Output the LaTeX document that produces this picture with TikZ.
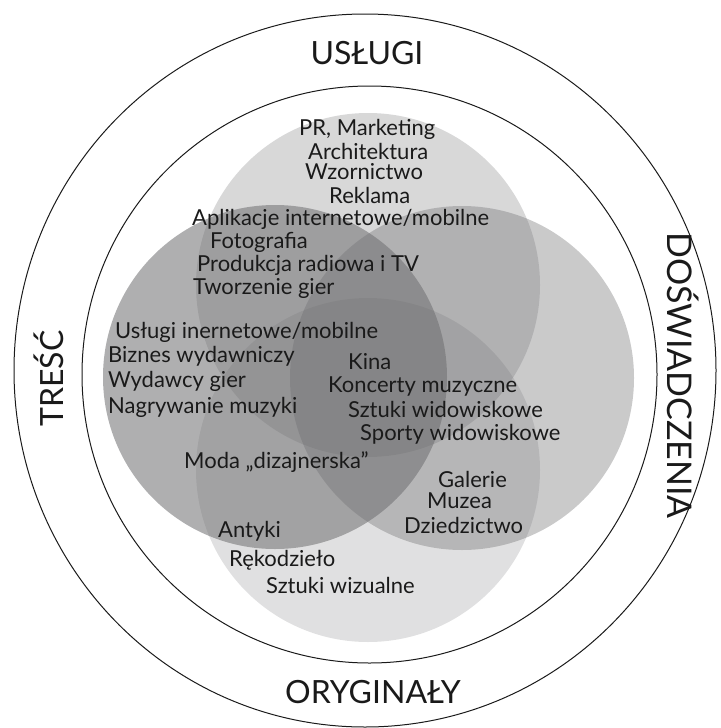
\documentclass[tikz,border=0pt]{standalone}
\usepackage{fontspec}
\setmainfont{Lato}
\usepackage{xcolor}
\usepackage{tikz}
\usetikzlibrary{positioning,calc}
\definecolor{venngray}{HTML}{6E6E70}
\definecolor{venntext}{HTML}{1A1A1A}

\begin{document}
\begin{tikzpicture}[x=1pt,y=-1pt]
    \tikzstyle{sector}=[circle,minimum size=344pt,inner sep=0pt,fill=venngray]
    \tikzstyle{area}=[anchor=base,inner sep=0pt,font=\fontsize{32}{38}\selectfont,text=venntext]
    \tikzstyle{item}=[anchor=base west,inner sep=0pt,font=\fontsize{22}{26}\selectfont,text=venntext]
    \useasboundingbox (0,0) rectangle (720,728);
    \coordinate (c) at (368,378);
    % two rings
    \draw[line width=1pt,venntext] (365,370.5) ellipse [x radius=351, y radius=356.5];
    \draw[line width=1pt,venntext] (369.5,374.5) ellipse [x radius=287.5, y radius=288.5];
    % the four sets
    \node[sector,fill opacity=0.27] (su) at ($(c)+(0,-93)$) {};
    \node[sector,fill opacity=0.37] (sd) at ($(c)+(94,0)$) {};
    \node[sector,fill opacity=0.21] (so) at ($(c)+(0,92)$) {};
    \node[sector,fill opacity=0.55] (st) at ($(c)+(-93,-1)$) {};
    % ring labels
    \node[area] (uslugi) at (367,64) {USŁUGI};
    \node[area] (oryg) at (373,703) {ORYGINAŁY};
    \node[area,rotate=90] (tresc) at (63,378.5) {TREŚĆ};
    \node[area,rotate=-90,font=\fontsize{34}{40}\selectfont] (dosw) at (667,375.5) {DOŚWIADCZENIA};
    % services
    \node[item] (pr) at (299,135) {PR, Marketing};
    \node[item] (arch) at (308,159) {Architektura};
    \node[item] (wzor) at (305,179) {Wzornictwo};
    \node[item] (rekl) at (329,203) {Reklama};
    \node[item] (apl) at (192,225) {Aplikacje internetowe/mobilne};
    \node[item] (foto) at (210,248) {Fotografia};
    \node[item] (prod) at (197,271) {Produkcja radiowa i TV};
    \node[item] (gry) at (193,294) {Tworzenie gier};
    % content
    \node[item] (usl) at (115,338) {Usługi inernetowe/mobilne};
    \node[item] (biz) at (108,362) {Biznes wydawniczy};
    \node[item] (wyd) at (108,387) {Wydawcy gier};
    \node[item] (nag) at (108,413) {Nagrywanie muzyki};
    \node[item] (moda) at (184,468) {Moda „dizajnerska”};
    % experiences
    \node[item] (kina) at (348,369) {Kina};
    \node[item] (konc) at (328,392) {Koncerty muzyczne};
    \node[item] (sztw) at (348,417) {Sztuki widowiskowe};
    \node[item] (sport) at (360,440) {Sporty widowiskowe};
    \node[item] (gal) at (438,487) {Galerie};
    \node[item] (muz) at (427,508) {Muzea};
    \node[item] (dzie) at (404,533) {Dziedzictwo};
    % originals
    \node[item] (ant) at (218,537) {Antyki};
    \node[item] (rek) at (229,566) {Rękodzieło};
    \node[item] (sztz) at (266,593) {Sztuki wizualne};
\end{tikzpicture}
\end{document}
